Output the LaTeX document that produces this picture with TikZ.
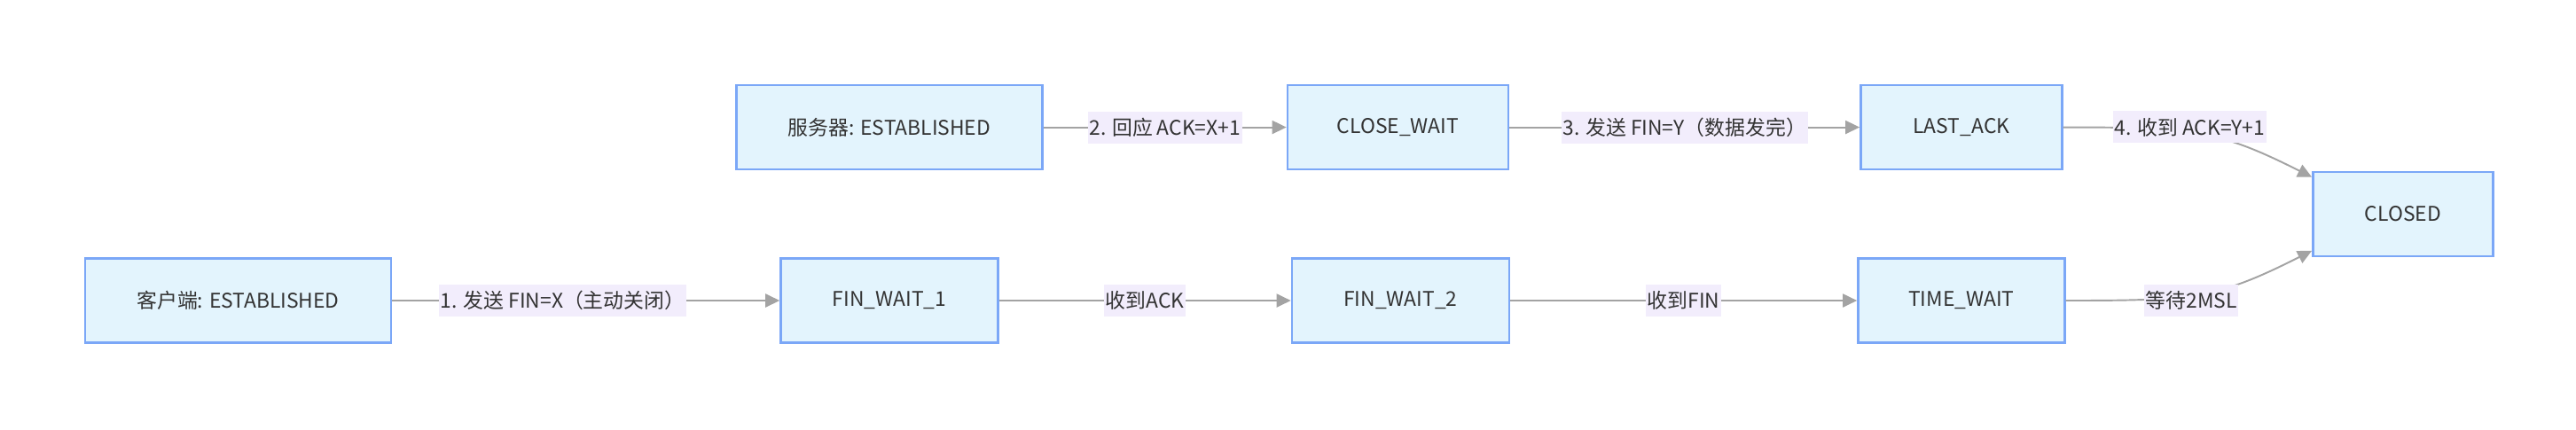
\documentclass[tikz,border=0pt]{standalone}
\usepackage{fontspec}
\setmainfont{Noto Sans CJK SC}
\usetikzlibrary{
  arrows.meta,
  positioning,
  calc
}
\definecolor{boxfill}{HTML}{E3F4FD}
\definecolor{boxline}{HTML}{7BA7F7}
\definecolor{labelbg}{HTML}{F2EDFC}
\definecolor{edgegray}{HTML}{A3A3A3}
\definecolor{darktext}{HTML}{333333}

\begin{document}
\begin{tikzpicture}[
    every node/.style={font=\fontsize{6.5}{8}\selectfont, text=darktext},
    statebox/.style={rectangle, draw=boxline, line width=0.7pt, fill=boxfill,
                 minimum height=0.95cm, minimum width=2.45cm, align=center},
    edgelabel/.style={fill=labelbg, inner xsep=0.5pt, inner ysep=0pt,
                 minimum height=0.36cm},
    myarrow/.style={-{Triangle[length=0.16cm, width=0.15cm]}, line width=0.55pt, edgegray},
]
\useasboundingbox (0,0) rectangle (29.05,4.84);

% Client side
\node[statebox, minimum width=3.45cm] (client) at (2.685,1.45) {客户端: ESTABLISHED};
\node[statebox, right=4.37cm of client] (fw1) {FIN\_WAIT\_1};
\node[statebox, right=3.29cm of fw1] (fw2) {FIN\_WAIT\_2};
\node[statebox, minimum width=2.33cm, right=3.91cm of fw2] (tw) {TIME\_WAIT};

% Server side
\node[statebox, minimum width=3.45cm, above=0.98cm of fw1] (server) {服务器: ESTABLISHED};
\node[statebox, minimum width=2.49cm, right=2.74cm of server] (cw) {CLOSE\_WAIT};
\node[statebox, minimum width=2.27cm, right=3.95cm of cw] (la) {LAST\_ACK};

\coordinate (mid) at ($(la.east)!0.5!(tw.east)$);
\node[statebox, minimum width=2.03cm, right=2.79cm of mid] (closed) {CLOSED};

\draw[myarrow] (client) -- node[edgelabel, pos=0.44] {1. 发送 FIN=X（主动关闭）} (fw1);
\draw[myarrow] (fw1) -- node[edgelabel] {收到ACK} (fw2);
\draw[myarrow] (fw2) -- node[edgelabel] {收到FIN} (tw);

\draw[myarrow] (server) -- node[edgelabel] {2. 回应 ACK=X+1} (cw);
\draw[myarrow] (cw) -- node[edgelabel] {3. 发送 FIN=Y（数据发完）} (la);

% Both ends meet at CLOSED
\draw[myarrow] (la.east) .. controls +(1.45,0) and +(-1.07,0.54) .. (closed.158)
    node[edgelabel, pos=0.45, yshift=0.06cm] {4. 收到 ACK=Y+1};
\draw[myarrow] (tw.east) .. controls +(1.45,0) and +(-1.07,-0.54) .. (closed.202)
    node[edgelabel, pos=0.45, yshift=-0.06cm] {等待2MSL};

\end{tikzpicture}
\end{document}
